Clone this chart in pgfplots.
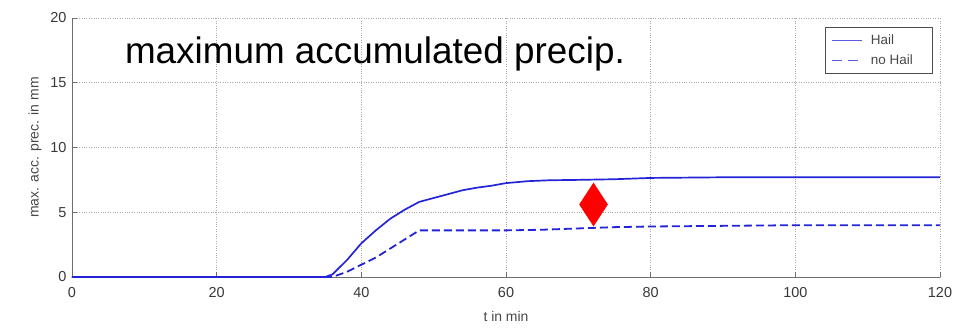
\documentclass[border=0pt]{standalone}
\usepackage{pgfplots}
\pgfplotsset{compat=1.18}
\usepackage{fontspec}
\setmainfont{Liberation Sans}
\definecolor{mblue}{RGB}{35,35,215}
\definecolor{legblue}{RGB}{90,90,230}
\definecolor{axgray}{RGB}{110,110,110}
\definecolor{gridgray}{RGB}{170,170,170}
\begin{document}
\begin{tikzpicture}
\useasboundingbox (-72bp,-51bp) rectangle (881bp,277bp);
\begin{axis}[
  scale only axis,
  width=868bp, height=259bp,
  xmin=0, xmax=120, ymin=0, ymax=20,
  xtick={0,20,...,120}, ytick={0,5,...,20},
  axis lines*=left,
  axis line style={axgray, line width=0.8pt},
  tick style={axgray, line width=0.8pt},
  major tick length=5bp,
  tick align=inside,
  grid=major,
  grid style={gridgray, dotted, line width=0.6pt},
  tick label style={font=\fontsize{14.5}{16}\selectfont, text=black!78},
  xticklabel style={anchor=center, yshift=-16bp},
  yticklabel style={anchor=east, xshift=-2bp},
  /pgf/number format/assume math mode=true,
  xlabel={t in min},
  ylabel={max. acc. prec. in mm},
  label style={font=\fontsize{14}{16}\selectfont, text=black!72},
  xlabel style={at={(axis description cs:0.5,-0.151)}, anchor=center},
  ylabel style={at={(axis description cs:-0.0426,0.5)}, anchor=center},
  legend style={at={(0.992,0.965)}, anchor=north east, draw=black!70, line width=0.6pt,
    font=\fontsize{13.5}{15}\selectfont, text=black!72, inner xsep=6bp, inner ysep=5bp,
    row sep=5bp},
  legend cell align=left,
  legend image code/.code={\draw[#1] (0bp,0bp) -- (30bp,0bp);},
  legend image post style={line width=0.8pt, legblue},
]
\addplot[mblue, line width=1.7pt] coordinates {
(0,0) (35,0) (36,0.2) (38,1.3) (40,2.6) (42,3.6) (44,4.5) (46,5.2) (48,5.8)
(50,6.1) (52,6.4) (54,6.7) (56,6.9) (58,7.05) (60,7.25) (63,7.4) (66,7.47)
(70,7.5) (75,7.55) (80,7.65) (90,7.7) (100,7.7) (110,7.7) (120,7.7)};
\addlegendentry{\hspace*{7bp}Hail}
\addplot[mblue, line width=1.8pt, dash pattern=on 8bp off 4bp,
  legend image post style={dash pattern=on 10bp off 6bp}] coordinates {
(0,0) (36,0) (38,0.4) (40,0.95) (42,1.5) (44,2.2) (46,2.9) (48,3.6)
(52,3.6) (56,3.6) (60,3.6) (65,3.65) (70,3.75) (75,3.85) (80,3.9)
(90,3.95) (100,4.0) (110,4.0) (120,4.0)};
\addlegendentry{\hspace*{7bp}no Hail\hspace*{12bp}\null}
\addplot[only marks, mark=diamond*, mark size=21.5bp, red, mark options={xscale=0.87, draw=red, fill=red}, forget plot]
 coordinates {(72.1,5.6)};
\node[anchor=base west, inner sep=0pt, font=\fontsize{37}{40}\selectfont] at (axis cs:7.3,16.5) {maximum accumulated precip.};
\end{axis}
\end{tikzpicture}
\end{document}
